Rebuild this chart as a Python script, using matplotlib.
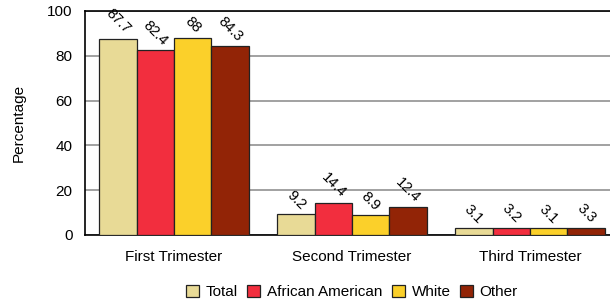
import numpy as np
import matplotlib.pyplot as plt

plt.rcParams['font.family'] = ['Liberation Sans', 'DejaVu Sans']

categories = ["First Trimester", "Second Trimester", "Third Trimester"]
groups = ["Total", "African American", "White", "Other"]
values = {
    "Total": [87.7, 9.2, 3.1],
    "African American": [82.4, 14.4, 3.2],
    "White": [88, 8.9, 3.1],
    "Other": [84.3, 12.4, 3.3],
}
colors = ["#E8DA96", "#F22E3E", "#FBD02A", "#922406"]
yticks = [0, 20, 40, 60, 80, 100]

fig = plt.figure(figsize=(6.10, 3.01), dpi=100)
ax = fig.add_axes([85 / 610, 66 / 301, 534 / 610, 224 / 301])

x = np.arange(len(categories))
w = 0.21
for i, (g, c) in enumerate(zip(groups, colors)):
    pos = x + (i - 1.5) * w
    bars = ax.bar(pos, values[g], w, color=c, edgecolor="#222222",
                  linewidth=0.9, label=g, zorder=3)
    for b, v in zip(bars, values[g]):
        ax.annotate(f"{v:g}", (b.get_x() + b.get_width() / 2, b.get_height()),
                    xytext=(0, 1.5), textcoords="offset points",
                    ha="center", va="bottom", rotation=-45, fontsize=10.5)

ax.set_xlim(-0.5, 2.5)
ax.set_ylim(0, 100)
ax.set_yticks(yticks)
ax.set_xticks(x)
ax.set_xticklabels(categories)
ax.tick_params(axis="y", length=0, labelsize=11, pad=9)
ax.tick_params(axis="x", length=0, labelsize=11, pad=11)
ax.yaxis.grid(True, color="#888888", linewidth=1.1, zorder=0)
for s in ax.spines.values():
    s.set_color("black")
    s.set_linewidth(1.2)
ax.set_ylabel("Percentage", fontsize=11, labelpad=15)

fig.legend(loc="lower center", bbox_to_anchor=(352 / 610, -0.04), ncol=4,
           frameon=False, fontsize=11, handlelength=0.85, handleheight=0.85,
           handletextpad=0.45, columnspacing=0.6)

fig.savefig("out.png", dpi=100)
